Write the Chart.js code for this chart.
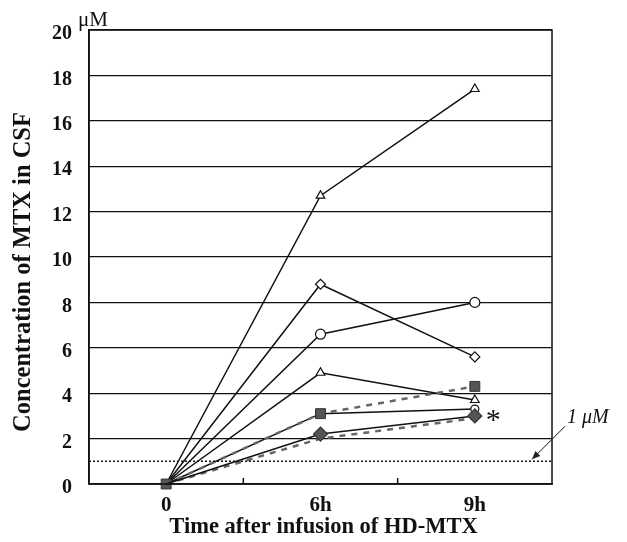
<!DOCTYPE html>
<html>
<head>
<meta charset="utf-8">
<script src="https://cdn.jsdelivr.net/npm/chart.js@4/dist/chart.umd.min.js"></script>
<style>
  html, body { margin: 0; padding: 0; background: #fff; }
  #wrap { width: 627px; height: 542px; }
</style>
</head>
<body>
<div id="wrap"><canvas id="mtxChart" width="627" height="542"></canvas></div>
<script>
const categories = ['0', '6h', '9h'];

// CSF MTX concentration (uM) per patient
const triHigh   = [0, 12.7, 17.4];
const diaOpen   = [0, 8.8, 5.6];
const circOpen  = [0, 6.6, 8.0];
const triLow    = [0, 4.9, 3.7];
const sqFilled  = [0, 3.1, 4.3];
const circLow   = [0, 3.1, 3.3];
const diaFilled = [0, 2.2, 3.0];
const diaDashed = [0, 2.0, 2.9];

const thresholdValue = 1;
const thresholdLabel = '1 \u03bcM';
const unitLabel = '\u03bcM';
const xTitle = 'Time after infusion of HD-MTX';
const yTitle = 'Concentration of MTX in CSF';

const SERIF = '"Liberation Serif", "DejaVu Serif", serif';

function solid(data, style, r) {
  return {
    data,
    borderColor: '#111',
    borderWidth: 1.5,
    pointStyle: style,
    pointRadius: r || [0, 5, 5],
    pointBackgroundColor: '#fff',
    pointBorderColor: '#111',
    pointBorderWidth: 1.2,
  };
}

function dashed(data, style, r) {
  return {
    data,
    borderColor: '#666',
    borderWidth: 2.5,
    borderDash: [6, 6],
    pointStyle: style,
    pointRadius: r,
    pointBackgroundColor: '#555',
    pointBorderColor: '#333',
    pointBorderWidth: 1,
  };
}

const extras = {
  id: 'extras',
  afterDraw(chart) {
    const { ctx, chartArea: a, scales } = chart;
    const y1 = scales.y.getPixelForValue(thresholdValue);
    ctx.save();
    // frame
    ctx.strokeStyle = '#111';
    ctx.lineWidth = 1.5;
    ctx.strokeRect(a.left, a.top, a.right - a.left, a.bottom - a.top);
    // small ticks between categories
    [0.5, 1.5].forEach(v => {
      const x = scales.x.getPixelForValue(v);
      ctx.beginPath();
      ctx.moveTo(x, a.bottom);
      ctx.lineTo(x, a.bottom - 6);
      ctx.stroke();
    });
    // 1 uM dotted line
    ctx.setLineDash([2, 2]);
    ctx.beginPath();
    ctx.moveTo(a.left, y1);
    ctx.lineTo(a.right, y1);
    ctx.stroke();
    ctx.setLineDash([]);
    // arrow
    const ax0 = a.right + 13, ay0 = y1 - 35, ax1 = a.right - 20, ay1 = y1 - 2;
    ctx.lineWidth = 1;
    ctx.beginPath();
    ctx.moveTo(ax0, ay0);
    ctx.lineTo(ax1, ay1);
    ctx.stroke();
    const ang = Math.atan2(ay1 - ay0, ax1 - ax0);
    ctx.beginPath();
    ctx.moveTo(ax1, ay1);
    ctx.lineTo(ax1 - 9 * Math.cos(ang - 0.4), ay1 - 9 * Math.sin(ang - 0.4));
    ctx.lineTo(ax1 - 9 * Math.cos(ang + 0.4), ay1 - 9 * Math.sin(ang + 0.4));
    ctx.closePath();
    ctx.fillStyle = '#222';
    ctx.fill();
    // texts
    ctx.fillStyle = '#111';
    ctx.font = 'italic 20px ' + SERIF;
    ctx.textAlign = 'left';
    ctx.textBaseline = 'middle';
    ctx.fillText(thresholdLabel, a.right + 15, y1 - 44);
    ctx.font = '21px ' + SERIF;
    ctx.textBaseline = 'alphabetic';
    ctx.fillText(unitLabel, a.left - 11, a.top - 4);
    const xs = scales.x.getPixelForValue(2);
    const ys = scales.y.getPixelForValue(diaFilled[2]);
    ctx.font = '30px ' + SERIF;
    ctx.textBaseline = 'middle';
    ctx.fillText('*', xs + 11, ys + 5);
    // axis titles
    ctx.font = 'bold 22.5px ' + SERIF;
    ctx.textAlign = 'center';
    ctx.textBaseline = 'alphabetic';
    ctx.fillText(xTitle, (a.left + a.right) / 2 + 3, 533);
    ctx.textBaseline = 'middle';
    ctx.translate(24, 272);
    ctx.rotate(-Math.PI / 2);
    ctx.font = 'bold 24.5px ' + SERIF;
    ctx.fillText(yTitle, 0, 0);
    ctx.restore();
  }
};

new Chart(document.getElementById('mtxChart').getContext('2d'), {
  type: 'line',
  data: {
    labels: categories,
    datasets: [
      Object.assign(solid(diaFilled, 'rectRot', [0, 7, 7]), {
        pointBackgroundColor: '#555', pointBorderColor: '#333',
      }),
      dashed(sqFilled, 'rect', [7, 7, 7]),
      solid(triHigh, 'triangle'),
      solid(diaOpen, 'rectRot'),
      solid(circOpen, 'circle'),
      solid(triLow, 'triangle'),
      solid(circLow, 'circle', [0, 0, 4]),
      dashed(diaDashed, 'rectRot', [0, 0, 0]),
    ],
  },
  options: {
    responsive: false,
    animation: false,
    clip: false,
    layout: { padding: { top: 30, right: 75, left: 0, bottom: 0 } },
    plugins: { legend: { display: false }, tooltip: { enabled: false } },
    elements: { line: { tension: 0 } },
    scales: {
      x: {
        offset: true,
        grid: { display: false },
        border: { display: true, color: '#111', width: 1.5 },
        ticks: { color: '#111', font: { family: SERIF, size: 21, weight: 'bold' }, padding: 1 },
        afterFit(scale) { scale.height = 58; },
      },
      y: {
        min: 0,
        max: 20,
        ticks: {
          stepSize: 2, color: '#111', labelOffset: 4, padding: 17,
          font: { family: SERIF, size: 20, weight: 'bold' },
        },
        grid: { color: '#111', lineWidth: 1.2, drawTicks: false },
        border: { display: true, color: '#111', width: 1.5 },
        afterFit(scale) { scale.width = 89; },
      },
    },
  },
  plugins: [extras],
});
</script>
</body>
</html>
